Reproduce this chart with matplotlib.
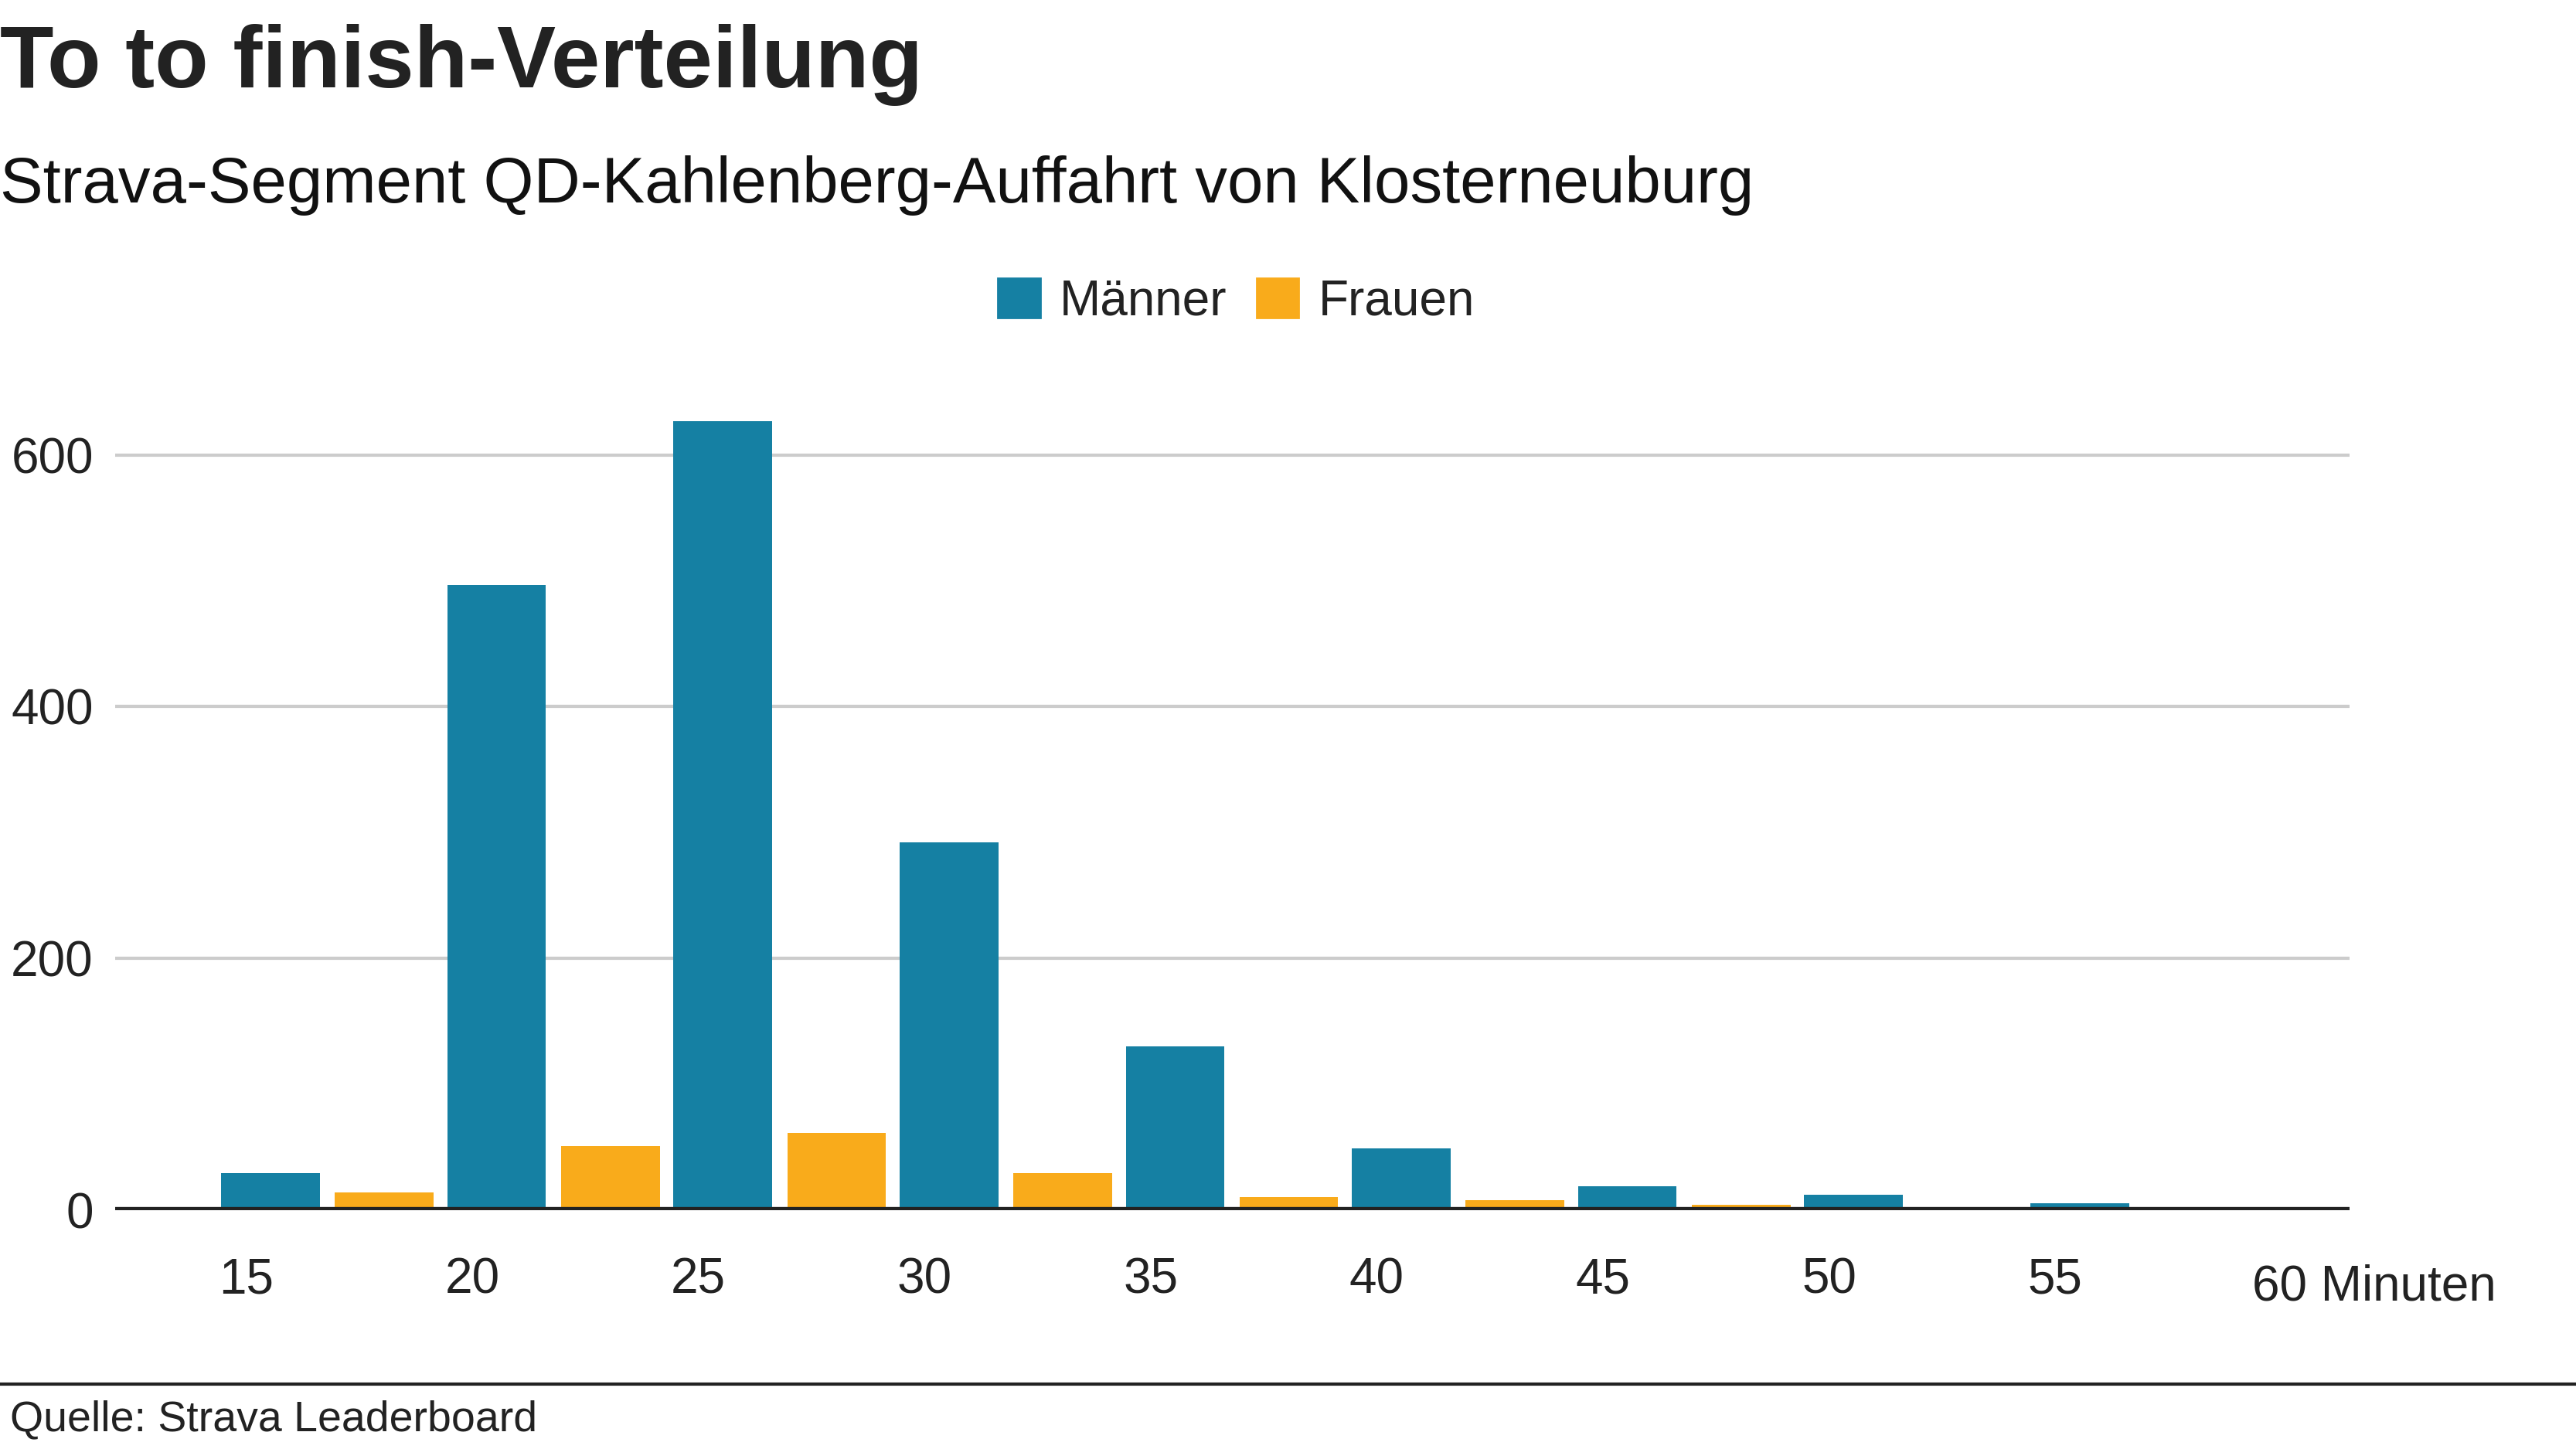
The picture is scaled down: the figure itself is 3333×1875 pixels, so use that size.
import matplotlib
matplotlib.use("Agg")
import matplotlib.pyplot as plt
import numpy as np

plt.rcParams['font.family'] = ['Liberation Sans', 'DejaVu Sans']

categories = ["15", "20", "25", "30", "35", "40", "45", "50", "55", "60 Minuten"]
maenner = [29, 497, 627, 292, 130, 49, 19, 12, 5, 0]
frauen = [14, 51, 61, 29, 10, 8, 4, 1, 0, 0]
yticks = [0, 200, 400, 600]

c_m = "#1580a3"
c_f = "#f9ab1b"
txt = "#222222"

fig = plt.figure(figsize=(16.665, 9.375), dpi=200)
ax = fig.add_axes([0.0446, 0.165, 0.8674, 0.573])

x = np.arange(len(categories))
ax.bar(x - 0.11, maenner, width=0.436, align="edge", color=c_m, zorder=3)
ax.bar(x + 0.393, frauen, width=0.436, align="edge", color=c_f, zorder=3)

ax.set_xlim(-0.58, 9.30)
ax.set_ylim(0, 660)
ax.set_yticks(yticks)
ax.set_yticklabels([str(v) for v in yticks], fontsize=23, color=txt)
ax.yaxis.grid(True, color="#cccccc", lw=1.5, zorder=0)
ax.set_xticks(x[:-1])
ax.set_xticklabels(categories[:-1], fontsize=23, color=txt)
ax.text(x[-1] - 0.13, -0.093, categories[-1], transform=ax.get_xaxis_transform(),
        fontsize=23, color=txt, ha="left", va="center")
ax.tick_params(length=0, pad=6)
ax.tick_params(axis="x", pad=22)
ax.tick_params(axis="y", pad=10)
for s in ax.spines.values():
    s.set_visible(False)
ax.axhline(0, color="#222222", lw=3, zorder=4)

fig.text(0.0, 0.955, "To to finish-Verteilung", fontsize=41, fontweight="bold",
         color=txt, ha="left", va="center")
fig.text(0.0, 0.872, "Strava-Segment QD-Kahlenberg-Auffahrt von Klosterneuburg",
         fontsize=30, color="#111111", ha="left", va="center")

from matplotlib.patches import Patch
fig.legend(handles=[Patch(color=c_m, label="Männer"), Patch(color=c_f, label="Frauen")],
           loc="center", bbox_to_anchor=(0.48, 0.792), ncol=2, frameon=False,
           fontsize=23, handlelength=0.85, handleheight=0.85, handletextpad=0.4,
           columnspacing=0.6, labelcolor=txt)

fig.add_artist(plt.Line2D([0, 1], [0.045, 0.045], color="#222222", lw=1.5,
                          transform=fig.transFigure))
fig.text(0.004, 0.02, "Quelle: Strava Leaderboard", fontsize=20, color=txt,
         ha="left", va="center")

fig.savefig("out.png", dpi=200)
